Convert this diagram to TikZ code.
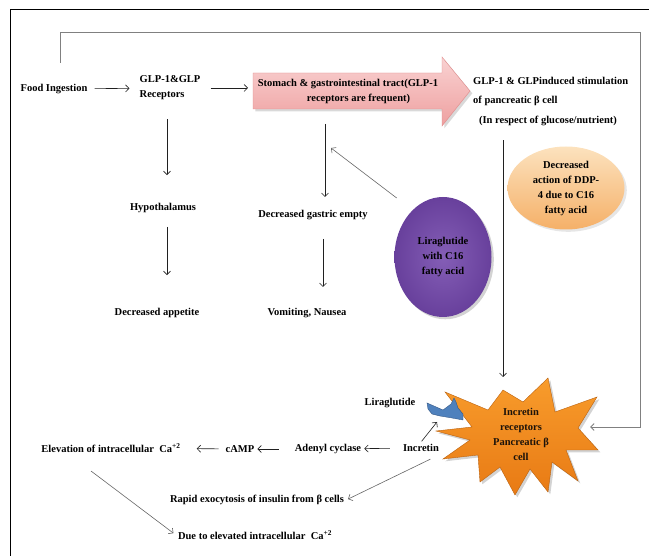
\documentclass[tikz,border=0pt]{standalone}
\usepackage{fontspec}
\setmainfont{Liberation Serif}
\usepackage{tikz}
\usetikzlibrary{shapes, arrows.meta, positioning, calc, shadows}

\definecolor{pinktop}{RGB}{249,210,210}
\definecolor{pinkbot}{RGB}{238,160,160}
\definecolor{pinkline}{RGB}{224,138,138}
\definecolor{liraviolet}{RGB}{132,94,182}
\definecolor{liradark}{RGB}{104,64,156}
\definecolor{peachtop}{RGB}{252,226,190}
\definecolor{peachbot}{RGB}{245,176,104}
\definecolor{burstorange}{RGB}{248,156,44}
\definecolor{burstdark}{RGB}{232,122,20}
\definecolor{keyblue}{RGB}{79,129,189}
\definecolor{keyline}{RGB}{52,88,134}

\begin{document}
\begin{tikzpicture}[x=1pt, y=-1pt,
    txt/.style={font=\bfseries\fontsize{10.5}{15}\selectfont, inner sep=2pt, align=center},
    arr/.style={-{Straight Barb[length=3.5pt, width=7pt]}, line width=0.6pt, gray!25!black},
    loopline/.style={-{Straight Barb[length=3.5pt, width=7pt]}, line width=0.9pt, gray}]
    % Canvas and frame
    \useasboundingbox (0,0) rectangle (649,556);
    \draw[line width=1.2pt] (10.5,556) -- (10.5,9.5) -- (649,9.5);

    % Helper columns and free ends
    \coordinate (colloop) at (60,0);
    \coordinate (colhypo) at (167,0);
    \coordinate (colgastric) at (323,0);
    \coordinate (colnut) at (503,0);
    \coordinate (stomachtail) at (253,88);
    \coordinate (stomachfoot) at (325,124);
    \coordinate (gastricjoin) at (331,148);
    \coordinate (burstin) at (503,377);
    \coordinate (burstright) at (590,427);
    \coordinate (bluetip) at (437,422);
    \coordinate (elevfoot) at (91,471);

    % Big pink arrow
    \draw[pinkline, top color=pinktop, bottom color=pinkbot, drop shadow={opacity=0.3}]
        (253,73) -- (442,73) -- (442,57) -- (470,91) -- (442,126) -- (442,109) -- (253,109) -- cycle;

    % Top row
    \node[txt] (food) at (54,89) {Food Ingestion};
    \node[txt, align=left] (glp) at (170,88) {GLP-1\&GLP\\Receptors};
    \node[txt] (stomach) at (348,91) {Stomach \& gastrointestinal tract(GLP-1\\\hspace*{2em}receptors are frequent)};
    \node[txt, align=left, anchor=west] (gluc) at (471,91) {GLP-1 \& GLPinduced stimulation\\[4pt]of pancreatic β cell};
    \node[txt] (nutrient) at (548,121) {(In respect of glucose/nutrient)};

    % Middle part
    \node[txt] (hypo) at (163,208) {Hypothalamus};
    \node[txt] (appetite) at (157,313) {Decreased appetite};
    \node[txt] (gastric) at (313,215) {Decreased gastric empty};
    \node[txt] (vomit) at (307,313) {Vomiting, Nausea};
    \node[txt, ellipse, minimum width=97pt, minimum height=120pt, inner sep=0pt,
        inner color=liraviolet, outer color=liradark, drop shadow={opacity=0.35}]
        (lira) at (443,257) {Liraglutide\\with C16\\fatty acid};
    \node[txt, ellipse, minimum width=117pt, minimum height=83pt, inner sep=0pt,
        top color=peachtop, bottom color=peachbot, drop shadow={opacity=0.2}]
        (ddp) at (566,188) {Decreased\\action of DDP-\\4 due to C16\\fatty acid};

    % Starburst and receptor key
    \draw[burstdark!80!black, thin, top color=burstorange, bottom color=burstdark, drop shadow={opacity=0.35}]
        (445,392) -- (488,410) -- (503,390) -- (523,402) -- (548,378) -- (555,412)
        -- (597,397) -- (578,428) -- (598,450) -- (566,450) -- (578,481) -- (552,462)
        -- (548,492) -- (530,469) -- (515,495) -- (500,467) -- (480,482) -- (478,455)
        -- (443,459) -- (470,440) -- (436,431) -- (472,427) -- cycle;
    \draw[keyline, fill=keyblue]
        (427,403) -- (443,410) -- (451,404) -- (454,398) -- (456,402) -- (458,408)
        -- (463,414) -- (463,420) -- (452,418) -- (440,416) -- (432,414) -- (428,409) -- cycle;

    % Bottom part
    \node[txt, text=black!85!brown] (burst) at (521,434) {Incretin\\receptors\\Pancreatic β\\cell};
    \node[txt] (liralabel) at (390,403) {Liraglutide};
    \node[txt] (incretin) at (421,448) {Incretin};
    \node[txt] (adenyl) at (328,449) {Adenyl cyclase};
    \node[txt] (camp) at (240,449) {cAMP};
    \node[txt] (elev) at (111,448) {Elevation of intracellular\ \ Ca\textsuperscript{+2}};
    \node[txt] (rapid) at (257,500) {Rapid exocytosis of insulin from β cells};
    \node[txt] (due) at (255,535) {Due to elevated intracellular\ \ Ca\textsuperscript{+2}};

    % Arrows
    \draw[arr, shorten <=5pt, shorten >=8pt] (food) -- (glp);
    \draw[arr, shorten <=8pt, shorten >=5pt] (glp.east) -- (stomachtail);
    \draw[arr, shorten <=17pt, shorten >=26pt] (glp.south -| colhypo) -- (hypo.north -| colhypo);
    \draw[arr, shorten <=12pt, shorten >=31pt] (hypo.south -| colhypo) -- (appetite.north -| colhypo);
    \draw[arr, shorten >=11pt] (stomachfoot) -- (stomachfoot |- gastric.north);
    \draw[arr, shorten <=17pt, shorten >=19pt] (gastric.south -| colgastric) -- (vomit.north -| colgastric);
    \draw[arr, gray!80!black, shorten <=20pt] (lira.123) -- (gastricjoin);
    \draw[arr, shorten <=12pt] (nutrient.south -| colnut) -- (burstin);
    \draw[loopline, shorten <=19pt] (food.north -| colloop) |- (640,32) |- (burstright);

    \draw[arr, shorten <=1pt] (incretin.north) -- (bluetip);
    \draw[arr, shorten <=11pt, shorten >=1pt] (incretin) -- (adenyl);
    \draw[arr, shorten <=14pt, shorten >=1pt] (adenyl) -- (camp);
    \draw[arr, shorten <=5pt, shorten >=14pt] (camp) -- (elev);
    \draw[arr, gray!80!black, shorten <=12pt, shorten >=2pt] (incretin.south east) -- (rapid.east);
    \draw[arr, gray!80!black, shorten >=3pt] (elevfoot) -- (due.west);
\end{tikzpicture}
\end{document}
